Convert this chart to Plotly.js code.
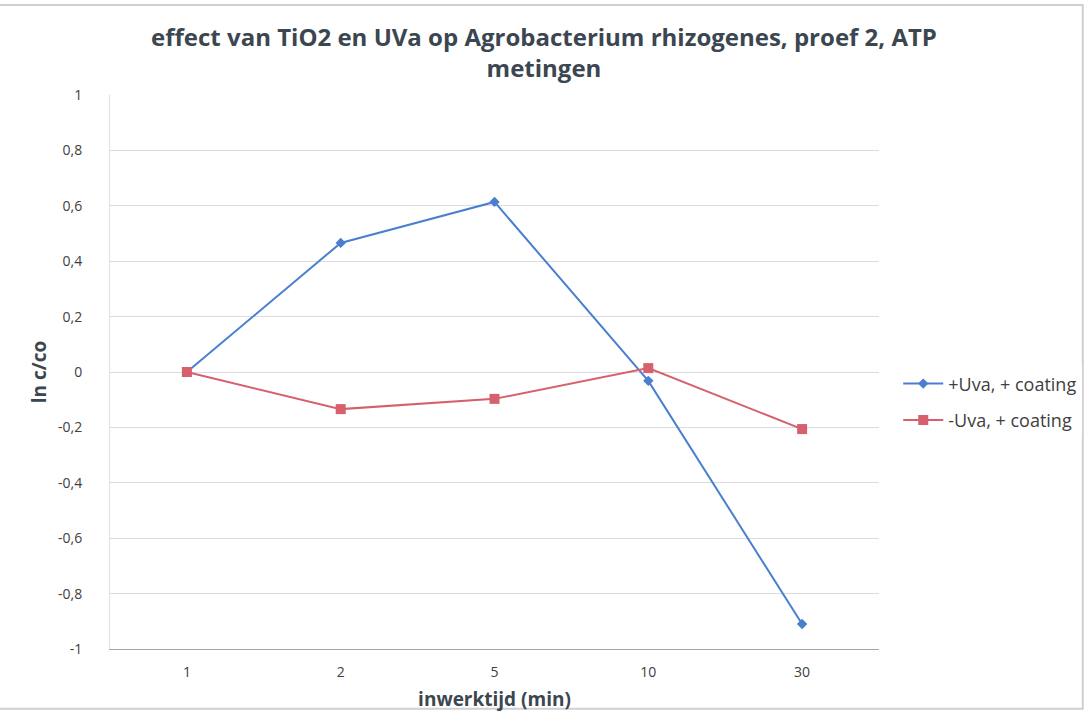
<!DOCTYPE html>
<html>
<head>
<meta charset="utf-8">
<script src="https://cdn.plot.ly/plotly-3.0.1.min.js"></script>
<style>html,body{margin:0;padding:0;background:#fff;}#chart{width:1088px;height:712px;}</style>
</head>
<body>
<div id="chart"></div>
<script>
const categories = ["1", "2", "5", "10", "30"];
const uvaCoating = [0, 0.466, 0.614, -0.032, -0.91];
const noUvaCoating = [0, -0.134, -0.097, 0.014, -0.206];
const seriesNames = ["+Uva, + coating", "-Uva, + coating"];
const yTickVals = [-1, -0.8, -0.6, -0.4, -0.2, 0, 0.2, 0.4, 0.6, 0.8, 1];
const yTickText = ["-1", "-0,8", "-0,6", "-0,4", "-0,2", "0", "0,2", "0,4", "0,6", "0,8", "1"];

const font = "Open Sans, Noto Sans, sans-serif";
const traces = [
  {x: categories, y: uvaCoating, name: seriesNames[0], legendgroup: "a", type: "scatter", mode: "lines+markers",
   line: {color: "#4a7fd0", width: 2}, marker: {symbol: "diamond", size: 8, color: "#4a7fd0"}},
  {x: categories, y: noUvaCoating, name: seriesNames[1], legendgroup: "b", type: "scatter", mode: "lines+markers",
   line: {color: "#d6606c", width: 2}, marker: {symbol: "square", size: 10, color: "#d6606c"}}
];
const layout = {
  width: 1088, height: 712,
  margin: {l: 110, r: 209, t: 95, b: 63, autoexpand: false},
  paper_bgcolor: "#fff", plot_bgcolor: "#fff",
  font: {family: font, color: "#404040"},
  title: {text: "effect van TiO2 en UVa op Agrobacterium rhizogenes, proef 2, ATP<br>metingen",
          font: {family: font, size: 24, color: "#3b4650", weight: "bold"},
          x: 0.5, xanchor: "center", y: 0.935, yanchor: "middle"},
  xaxis: {type: "category", range: [-0.5, 4.5], showgrid: false, showline: true, linecolor: "#a6a6a6", linewidth: 1,
          ticks: "", tickfont: {size: 14, color: "#404040"}, zeroline: false, ticklabelstandoff: 10,
          title: {text: "inwerktijd (min)", font: {size: 19, color: "#3b4650", weight: "bold"}, standoff: 12}},
  yaxis: {range: [-1, 1], tickvals: yTickVals, ticktext: yTickText, showgrid: true, gridcolor: "#dcdcdc",
          zeroline: false, showline: true, linecolor: "#e0e0e0", ticks: "",
          tickfont: {size: 14, color: "#404040"}, ticklabelstandoff: 24,
          title: {text: "ln c/co", font: {size: 19, color: "#3b4650", weight: "bold"}, standoff: 6}},
  legend: {x: 1.025, xanchor: "left", y: 0.446, yanchor: "middle", font: {size: 18, color: "#404040"},
           tracegroupgap: 10, itemwidth: 40},
  shapes: [{type: "rect", xref: "paper", yref: "paper", x0: -0.16, x1: 1.265, y0: -0.108, y1: 1.1625,
            line: {color: "#d0d0d0", width: 2}, layer: "below"}]
};
Plotly.newPlot("chart", traces, layout, {displayModeBar: false});
</script>
</body>
</html>
